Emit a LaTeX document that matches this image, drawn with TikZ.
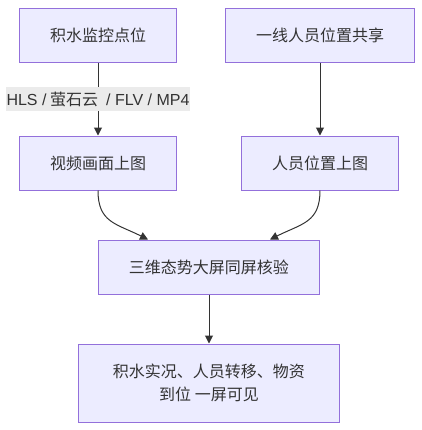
\documentclass[tikz,border=0pt]{standalone}
\usepackage{fontspec}
\setmainfont{Noto Sans CJK SC}
\newfontfamily\latin{Liberation Sans}
\usetikzlibrary{arrows.meta,calc}
\definecolor{boxfill}{HTML}{ECECFF}
\definecolor{boxline}{HTML}{9370DB}
\definecolor{ink}{HTML}{333333}
\definecolor{labelbg}{HTML}{EBEBEB}
\tikzset{
  stepbox/.style={draw=boxline, fill=boxfill, line width=1bp, minimum height=54bp,
    inner sep=0pt, text=ink, align=center, font=\fontsize{16bp}{23bp}\selectfont},
  flow/.style={draw=ink, line width=1bp, -{Triangle[length=8bp,width=8bp]}},
  tag/.style={fill=labelbg, text=ink, inner xsep=1bp, inner ysep=0pt, minimum height=24bp,
    font=\fontsize{16bp}{20bp}\selectfont},
}

\begin{document}
\begin{tikzpicture}[x=1bp, y=-1bp]
  \useasboundingbox (0,0) rectangle (422,430);
  % sources
  \node[stepbox, minimum width=156bp] (pts) at (98,35) {积水监控点位};
  \node[stepbox, minimum width=188bp] (crew) at (320,35) {一线人员位置共享};
  % map layers
  \node[stepbox, minimum width=156bp] (vid) at (98,163) {视频画面上图};
  \node[stepbox, minimum width=156bp] (pos) at (320,163) {人员位置上图};
  % big screen
  \node[stepbox, minimum width=220bp] (check) at (209,267) {三维态势大屏同屏核验};
  \node[stepbox, minimum width=260bp, minimum height=78bp] (view) at (209,383)
    {积水实况、人员转移、物资\\到位 一屏可见};

  \draw[flow] (pts) -- node[tag] {{\latin HLS /} 萤石云 {\latin\ / FLV / MP4}} (vid);
  \draw[flow] (crew) -- (pos);
  \draw[flow] (vid.south) .. controls +(0,32) and +(-32,-16) .. ($(check.north)+(-61,0)$);
  \draw[flow] (pos.south) .. controls +(0,32) and +(32,-16) .. ($(check.north)+(61,0)$);
  \draw[flow] (check) -- (view);
\end{tikzpicture}
\end{document}
